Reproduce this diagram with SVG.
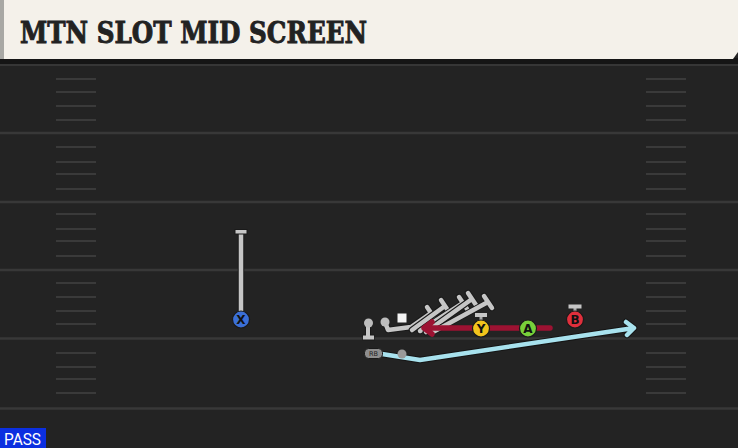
<svg xmlns="http://www.w3.org/2000/svg" width="738" height="448" viewBox="0 0 738 448">
<defs>
<style>
.fl{stroke:#383838;stroke-width:2.5}
.hm{stroke:#3a3a3a;stroke-width:2}
.ol{fill:none;stroke:#1a1a1a;stroke-width:6.5;stroke-linecap:round;stroke-linejoin:round}
.oi{fill:none;stroke:#c6c6c6;stroke-width:4.5;stroke-linecap:round;stroke-linejoin:round}
.lbl{font-family:'DejaVu Sans',sans-serif;font-weight:bold;text-anchor:middle;fill:#111}
</style>
</defs>
<rect width="738" height="448" fill="#232323"/>
<g id="field">
<line class="fl" x1="0" y1="133" x2="738" y2="133"/>
<line class="fl" x1="0" y1="202" x2="738" y2="202"/>
<line class="fl" x1="0" y1="270" x2="738" y2="270"/>
<line class="fl" x1="0" y1="338.5" x2="738" y2="338.5"/>
<line class="fl" x1="0" y1="408.5" x2="738" y2="408.5"/>
<g class="hm">
<path d="M56 79H96M56 92H96M56 106H96M56 120H96M56 147H96M56 162H96M56 174H96M56 189H96M56 214H96M56 229H96M56 241H96M56 256H96M56 283H96M56 297H96M56 311H96M56 324H96M56 353H96M56 367H96M56 379H96M56 393H96"/>
<path d="M646 79H686M646 92H686M646 106H686M646 120H686M646 147H686M646 162H686M646 174H686M646 189H686M646 214H686M646 229H686M646 241H686M646 256H686M646 283H686M646 297H686M646 311H686M646 324H686M646 353H686M646 367H686M646 379H686M646 393H686"/>
</g>
</g>
<g id="header">
<rect x="0" y="58" width="738" height="6" fill="#151515"/>
<line x1="0" y1="65" x2="738" y2="65" stroke="#363636" stroke-width="2"/>
<path d="M0 0H738V52L733 59H0Z" fill="#f4f1ea"/>
<rect x="0" y="0" width="4" height="59" fill="#a8a8a4"/>
<text x="20" y="43" font-family="'DejaVu Serif',serif" font-weight="bold" font-size="29" fill="#222" stroke="#222" stroke-width="0.9" textLength="347" lengthAdjust="spacingAndGlyphs">MTN SLOT MID SCREEN</text>
</g>
<g id="connectors">
<path d="M241 232V318" stroke="#1a1a1a" stroke-width="6.5"/>
<path d="M241 232V318" stroke="#c6c6c6" stroke-width="4.5"/>
<rect x="235" y="229.5" width="12" height="4.5" fill="#c6c6c6" stroke="#1a1a1a" stroke-width="1"/>
<g>
<path class="ol" d="M385 322L388 330L411 327L431 313M427 307L435 319"/>
<path class="oi" d="M385 322L388 330L411 327L431 313M427 307L435 319"/>
<path class="ol" d="M412 330L445 306M441 300L449 312"/>
<path class="oi" d="M412 330L445 306M441 300L449 312"/>
<path class="ol" d="M420 331L463 303M459 297L467 309"/>
<path class="oi" d="M420 331L463 303M459 297L467 309"/>
<path class="ol" d="M426 332L472 299M468 293L476 305"/>
<path class="oi" d="M426 332L472 299M468 293L476 305"/>
<path class="ol" d="M433 332L488 302M484 296L492 308"/>
<path class="oi" d="M433 332L488 302M484 296L492 308"/>
</g>
<path d="M368 323V336M362.5 337.5H374.5" fill="none" stroke="#1a1a1a" stroke-width="6"/>
<path d="M368 323V336M363 337.5H374" fill="none" stroke="#c6c6c6" stroke-width="4"/>
<path d="M550 328H424M432 322L424 328L432 334" fill="none" stroke="#9c1232" stroke-width="5.5" stroke-linecap="round" stroke-linejoin="round"/>
<path d="M382 354L420 360L634 328M626 322L634 328L627 335" fill="none" stroke="#151515" stroke-width="6.5" stroke-linecap="round" stroke-linejoin="round"/>
<path d="M382 354L420 360L634 328M626 322L634 328L627 335" fill="none" stroke="#a8e2ee" stroke-width="4.5" stroke-linecap="round" stroke-linejoin="round"/>
<path d="M481 316V321" stroke="#aaa" stroke-width="3"/>
<rect x="475" y="313" width="12" height="4" fill="#c6c6c6"/>
<path d="M575 307V312" stroke="#aaa" stroke-width="3"/>
<rect x="568.5" y="304.5" width="13" height="4" fill="#c6c6c6"/>
</g>
<g id="player-ol">
<circle cx="385" cy="322" r="4.5" fill="#bdbdbd"/>
<circle cx="368.5" cy="323" r="4.5" fill="#bdbdbd"/>
<rect x="397.5" y="313.5" width="9" height="9" fill="#f4f4f4"/>
<circle cx="402" cy="354" r="4.5" fill="#9a9a9a"/>
</g>
<g id="player-rb">
<rect x="364.5" y="348.5" width="18" height="10" rx="4" fill="#8e8e8e" stroke="#1a1a1a" stroke-width="1"/>
<text x="373.5" y="356" font-family="'DejaVu Sans',sans-serif" font-size="6.5" text-anchor="middle" fill="#222">RB</text>
</g>
<g id="player-x">
<circle cx="241" cy="319.5" r="8.5" fill="#3b6fd6" stroke="#1a1a1a" stroke-width="1.2"/>
<text class="lbl" x="241" y="324" font-size="12">X</text>
</g>
<g id="player-y">
<circle cx="481" cy="328.5" r="8.5" fill="#f2c41c" stroke="#1a1a1a" stroke-width="1.2"/>
<text class="lbl" x="481" y="333" font-size="12">Y</text>
</g>
<g id="player-a">
<circle cx="528" cy="328.5" r="8.5" fill="#78d03a" stroke="#1a1a1a" stroke-width="1.2"/>
<text class="lbl" x="528" y="333" font-size="12">A</text>
</g>
<g id="player-b">
<circle cx="575" cy="319.5" r="8.5" fill="#e02f3c" stroke="#1a1a1a" stroke-width="1.2"/>
<text class="lbl" x="575" y="324" font-size="12">B</text>
</g>
<g id="pass-label">
<rect x="0" y="428" width="46" height="20" fill="#0b2fe0"/>
<text x="4" y="445" font-family="Roboto,'DejaVu Sans',sans-serif" font-size="16" fill="#fff" textLength="37" lengthAdjust="spacingAndGlyphs">PASS</text>
</g>
</svg>
